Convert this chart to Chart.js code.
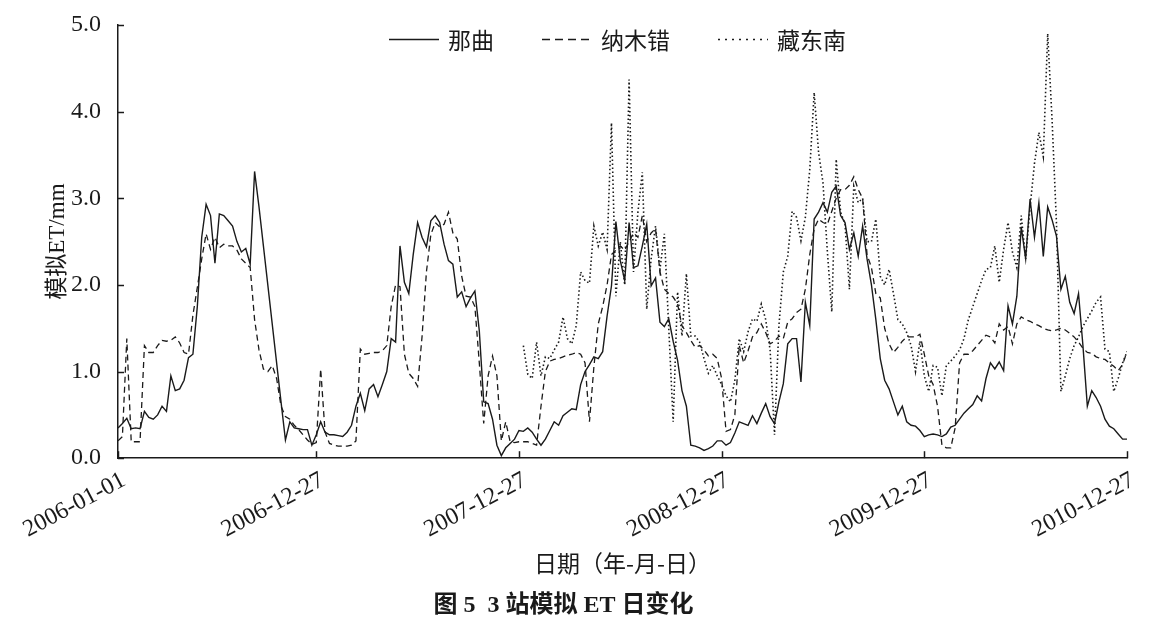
<!DOCTYPE html>
<html><head><meta charset="utf-8">
<script src="https://cdn.jsdelivr.net/npm/chart.js@4.4.1/dist/chart.umd.min.js"></script>
<style>html,body{margin:0;padding:0;background:#fff;}#wrap{width:1152px;height:626px;position:relative;}</style>
</head><body><div id="wrap"><canvas id="c"></canvas></div>
<script>
// x positions are the 8-day composite index (46 per year, 2006-2010)
const tickLabels = ['2006-01-01','2006-12-27','2007-12-27','2008-12-27','2009-12-27','2010-12-27'];
const tickIndex = [0,45,91,137,183,229];
const seriesNames = ['那曲','纳木错','藏东南'];

const naqu = [
0.35,0.40,0.46,0.34,0.35,0.34,0.54,0.47,0.45,0.50,
0.60,0.54,0.95,0.78,0.80,0.90,1.16,1.20,1.75,2.55,
2.93,2.80,2.25,2.82,2.80,2.74,2.68,2.50,2.38,2.42,
2.24,3.31,2.90,2.45,2.00,1.55,1.10,0.65,0.21,0.42,
0.35,0.34,0.33,0.33,0.15,0.27,0.42,0.30,0.27,0.27,
0.26,0.25,0.30,0.38,0.60,0.75,0.55,0.80,0.85,0.71,
0.85,1.00,1.38,1.34,2.45,2.03,1.90,2.35,2.72,2.55,
2.44,2.74,2.80,2.72,2.47,2.28,2.24,1.86,1.92,1.75,
1.85,1.93,1.47,0.65,0.63,0.45,0.15,0.03,0.12,0.17,
0.22,0.32,0.31,0.35,0.30,0.22,0.15,0.22,0.32,0.42,
0.38,0.49,0.53,0.57,0.56,0.85,1.00,1.08,1.17,1.15,
1.23,1.64,1.99,2.73,2.28,2.05,2.72,2.20,2.22,2.45,
2.70,1.99,2.08,1.57,1.52,1.61,1.35,1.13,0.78,0.60,
0.15,0.14,0.12,0.09,0.11,0.14,0.20,0.20,0.15,0.18,
0.29,0.42,0.40,0.38,0.49,0.40,0.52,0.63,0.48,0.40,
0.65,0.86,1.32,1.38,1.38,0.88,1.80,1.53,2.76,2.84,
2.95,2.84,3.07,3.14,2.80,2.72,2.41,2.60,2.33,2.68,
2.30,2.00,1.60,1.15,0.90,0.80,0.65,0.50,0.60,0.42,
0.38,0.37,0.32,0.25,0.27,0.28,0.27,0.25,0.28,0.36,
0.38,0.45,0.52,0.57,0.62,0.72,0.66,0.92,1.10,1.03,
1.11,1.01,1.76,1.55,1.87,2.67,2.30,2.99,2.55,2.95,
2.33,2.90,2.75,2.56,1.95,2.10,1.80,1.67,1.90,1.30,
0.60,0.78,0.70,0.60,0.45,0.37,0.34,0.28,0.22,0.22
];
const namco = [
0.20,0.25,1.38,0.19,0.19,0.19,1.30,1.22,1.22,1.30,
1.36,1.35,1.36,1.40,1.33,1.22,1.20,1.65,1.97,2.30,
2.59,2.41,2.55,2.43,2.47,2.45,2.45,2.40,2.30,2.25,
2.20,1.60,1.25,1.03,1.00,1.07,0.92,0.60,0.48,0.45,
0.38,0.33,0.27,0.21,0.16,0.18,1.03,0.30,0.17,0.15,
0.14,0.14,0.14,0.15,0.20,1.26,1.20,1.21,1.22,1.22,
1.24,1.30,1.75,2.00,1.98,1.20,0.98,0.92,0.83,1.40,
2.15,2.58,2.72,2.67,2.70,2.84,2.60,2.53,2.10,1.87,
1.86,1.75,1.10,0.40,0.95,1.18,0.95,0.20,0.42,0.19,
0.18,0.19,0.19,0.19,0.17,0.15,0.60,1.00,1.12,1.14,
1.15,1.17,1.19,1.20,1.22,1.20,1.10,0.42,1.05,1.55,
1.75,2.00,2.35,2.40,2.45,2.40,2.50,2.60,2.55,2.80,
2.50,2.60,2.65,2.15,1.95,1.90,1.86,1.78,1.53,1.45,
1.36,1.28,1.30,1.25,1.18,1.20,1.15,0.92,0.31,0.33,
0.50,1.30,1.10,1.24,1.40,1.45,1.55,1.45,1.32,1.35,
1.41,1.38,1.57,1.61,1.68,1.72,1.95,2.35,2.65,2.76,
2.72,2.70,2.85,3.00,3.10,3.10,3.15,3.25,3.10,3.00,
2.35,2.20,1.90,1.85,1.50,1.32,1.22,1.28,1.35,1.40,
1.40,1.40,1.43,1.20,0.95,0.85,0.60,0.15,0.12,0.12,
0.35,1.10,1.20,1.20,1.24,1.30,1.36,1.42,1.40,1.33,
1.55,1.48,1.52,1.32,1.55,1.63,1.60,1.58,1.55,1.53,
1.50,1.48,1.47,1.48,1.50,1.48,1.44,1.40,1.34,1.27,
1.22,1.21,1.17,1.15,1.14,1.10,1.06,1.01,1.08,1.23
];
// 藏东南 has no values before 2008 (first 92 composites)
const zdnStart = 92;
const zdn = [
1.30,0.97,0.92,1.34,0.95,1.17,1.15,1.25,
1.34,1.63,1.38,1.32,1.53,2.15,2.05,2.02,2.68,2.45,
2.61,2.41,3.87,1.87,2.50,2.00,4.37,2.15,2.84,3.30,
1.72,2.30,2.68,2.18,2.59,1.50,0.42,1.92,1.41,2.13,
1.41,1.41,1.34,1.15,0.98,1.07,0.95,0.85,0.72,0.65,
0.90,1.38,1.23,1.46,1.61,1.58,1.78,1.60,1.25,0.27,
1.53,2.15,2.33,2.85,2.78,2.51,2.78,3.33,4.22,3.53,
3.18,2.38,1.69,3.45,2.84,2.70,1.95,3.14,2.95,3.00,
2.50,2.50,2.76,2.10,2.00,2.18,1.90,1.60,1.55,1.45,
1.30,1.00,1.35,0.95,0.77,1.07,1.05,0.72,1.07,1.12,
1.18,1.25,1.38,1.60,1.75,1.90,2.05,2.18,2.20,2.45,
2.03,2.41,2.72,2.38,2.20,2.80,2.30,2.90,3.40,3.76,
3.48,4.90,3.90,2.70,0.77,0.95,1.15,1.30,1.40,1.52,
1.61,1.70,1.80,1.86,1.26,1.23,0.77,0.92,1.10,1.23
];
const yMin = 0, yMax = 5, yStep = 1;

const serif = '"Liberation Serif","Noto Sans CJK SC",serif';
const cjk = '"Noto Sans CJK SC",sans-serif';
const ink = '#1a1a1a';

const toPts = (arr, start) => arr.map((v, i) => ({x: i + start, y: v}));

const styles = [
  {dash: [], legendDash: [], width: 1.4},
  {dash: [6, 4], legendDash: [8, 5], width: 1.3},
  {dash: [1.5, 2.5], legendDash: [2, 5], width: 1.6}
];

const innerTicks = {
  id: 'innerTicks',
  afterDraw(chart) {
    const {ctx, chartArea, scales: {x, y}} = chart;
    ctx.save();
    ctx.strokeStyle = ink; ctx.lineWidth = 1.5;
    y.ticks.forEach(t => {
      const py = Math.round(y.getPixelForValue(t.value)) + 0.5;
      ctx.beginPath(); ctx.moveTo(chartArea.left, py); ctx.lineTo(chartArea.left + 6, py); ctx.stroke();
    });
    x.ticks.forEach(t => {
      const px = Math.round(x.getPixelForValue(t.value)) + 0.5;
      ctx.beginPath(); ctx.moveTo(px, chartArea.bottom); ctx.lineTo(px, chartArea.bottom - 7); ctx.stroke();
    });
    ctx.restore();
  }
};

const insideLegend = {
  id: 'insideLegend',
  afterDraw(chart) {
    const {ctx, chartArea} = chart;
    const lineLen = 50, gapText = 9, gapItem = 48;
    ctx.save();
    ctx.font = '23px ' + cjk;
    const widths = seriesNames.map(n => ctx.measureText(n).width);
    const total = widths.reduce((a, b) => a + b, 0) + seriesNames.length * (lineLen + gapText) + gapItem * (seriesNames.length - 1);
    let x0 = (chartArea.left + chartArea.right) / 2 - total / 2 - 5;
    const yc = chartArea.top + 14;
    seriesNames.forEach((n, i) => {
      const ds = chart.data.datasets[i];
      ctx.strokeStyle = ds.borderColor; ctx.lineWidth = styles[i].width;
      ctx.setLineDash(styles[i].legendDash);
      ctx.beginPath(); ctx.moveTo(x0, yc + 0.5); ctx.lineTo(x0 + lineLen, yc + 0.5); ctx.stroke();
      ctx.setLineDash([]);
      ctx.fillStyle = ink; ctx.textBaseline = 'middle'; ctx.textAlign = 'left';
      ctx.fillText(n, x0 + lineLen + gapText, yc + 1);
      x0 += lineLen + gapText + widths[i] + gapItem;
    });
    ctx.restore();
  }
};

new Chart(document.getElementById('c'), {
  type: 'line',
  data: {
    datasets: [
      {label: seriesNames[0], data: toPts(naqu, 0)},
      {label: seriesNames[1], data: toPts(namco, 0)},
      {label: seriesNames[2], data: toPts(zdn, zdnStart)}
    ].map((d, i) => Object.assign(d, {
      borderColor: ink, borderWidth: styles[i].width, borderDash: styles[i].dash,
      pointRadius: 0, tension: 0, fill: false, spanGaps: false
    }))
  },
  options: {
    responsive: true, maintainAspectRatio: false, animation: false,
    layout: {padding: {top: 25, right: 25, left: 0, bottom: 0}},
    plugins: {
      legend: {display: false},
      tooltip: {enabled: false},
      title: {
        display: true, position: 'bottom', text: '图 5  3 站模拟 ET 日变化',
        color: ink, font: {family: serif, size: 24, weight: 'bold', lineHeight: 1.2},
        padding: {top: 14, bottom: 6}
      }
    },
    scales: {
      x: {
        type: 'linear', min: tickIndex[0], max: tickIndex[tickIndex.length - 1],
        afterBuildTicks: s => { s.ticks = tickIndex.map(v => ({value: v})); },
        afterFit: s => { s.height = 119; },
        ticks: {
          autoSkip: false, minRotation: 28, maxRotation: 28, padding: 0, labelOffset: 6,
          callback: v => { const k = tickIndex.indexOf(v); return k >= 0 ? tickLabels[k] : ''; },
          font: {family: serif, size: 24}, color: ink
        },
        grid: {display: false},
        border: {display: true, color: ink, width: 1.5},
        title: {display: true, text: '日期（年-月-日）', color: ink,
          font: {family: cjk, size: 23, lineHeight: 1.2}, padding: {top: 0, bottom: 0}}
      },
      y: {
        type: 'linear', min: yMin, max: yMax,
        afterFit: s => { s.width = 118; },
        ticks: {stepSize: yStep, callback: v => Number(v).toFixed(1), padding: 9,
          font: {family: serif, size: 24}, color: ink},
        grid: {display: false},
        border: {display: true, color: ink, width: 1.5},
        title: {display: true, text: '模拟ET/mm', color: ink,
          font: {family: serif, size: 23, lineHeight: 1.2}, padding: {top: 44, bottom: 0}}
      }
    }
  },
  plugins: [innerTicks, insideLegend]
});
</script></body></html>
